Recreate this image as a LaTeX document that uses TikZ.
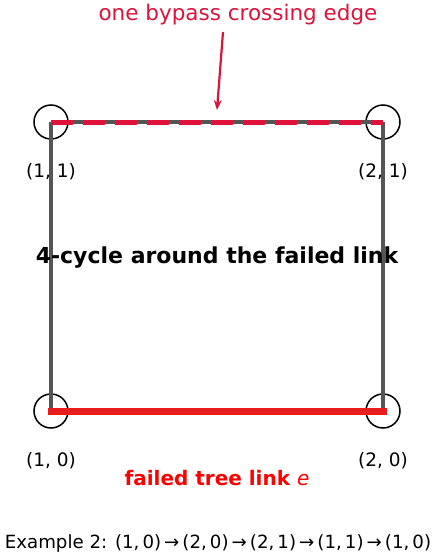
\documentclass[tikz,border=0pt]{standalone}
\usepackage{fontspec}
\setmainfont{DejaVu Sans}
\usepackage{tikz}
\usetikzlibrary{arrows.meta, positioning, calc}
\definecolor{edgegray}{RGB}{85, 85, 85}
\definecolor{crimson1}{RGB}{220, 20, 60}
\definecolor{failred}{RGB}{232, 28, 28}
\definecolor{labred}{RGB}{255, 0, 0}

\begin{document}
\begin{tikzpicture}[x=1pt, y=-1pt, every node/.style={font=\fontsize{18.5}{21}\selectfont},
  vert/.style={circle, draw=black, line width=1.5pt, minimum size=34pt, inner sep=0pt},
  cycleedge/.style={edgegray, line width=3.8pt},
  bypass/.style={crimson1, line width=5pt, dash pattern=on 22pt off 10pt},
  failed/.style={failred, line width=7pt, line cap=rect}]
  \useasboundingbox (0,0) rectangle (437,560);
  \node[vert] (v11) at (51,122) {};
  \node[vert] (v21) at (383,122) {};
  \node[vert] (v10) at (51,411) {};
  \node[vert] (v20) at (383,411) {};
  \node at (51,172) {(1, 1)};
  \node at (383,172) {(2, 1)};
  \node at (51,461) {(1, 0)};
  \node at (383,461) {(2, 0)};
  \draw[cycleedge] (v11.center) -- (v10.center);
  \draw[cycleedge] (v21.center) -- (v20.center);
  \draw[cycleedge] (v11.center) -- (v21.center);
  \draw[bypass] (v11.center) -- (v21.center);
  \draw[failed] (v10.center) -- (v20.center);
  \node[font=\fontsize{22}{26}\selectfont\bfseries] (title) at (217,258) {4-cycle around the failed link};
  \node[labred, font=\fontsize{20}{24}\selectfont\bfseries] (faillab) at (217,478) {failed tree link {\mdseries\itshape e}};
  \node[crimson1, font=\fontsize{21.5}{25}\selectfont] (note) at (238,15) {one bypass crossing edge};
  \coordinate (tip) at (217,110);
  \draw[crimson1, line width=2.2pt, -{Stealth[length=10pt, width=8pt]}] (223,32) -- (tip);
  \node[font=\fontsize{18.2}{22}\selectfont] (ex) at (218,543) {Example 2: (1,\,0)\,→\,(2,\,0)\,→\,(2,\,1)\,→\,(1,\,1)\,→\,(1,\,0)};
\end{tikzpicture}
\end{document}
